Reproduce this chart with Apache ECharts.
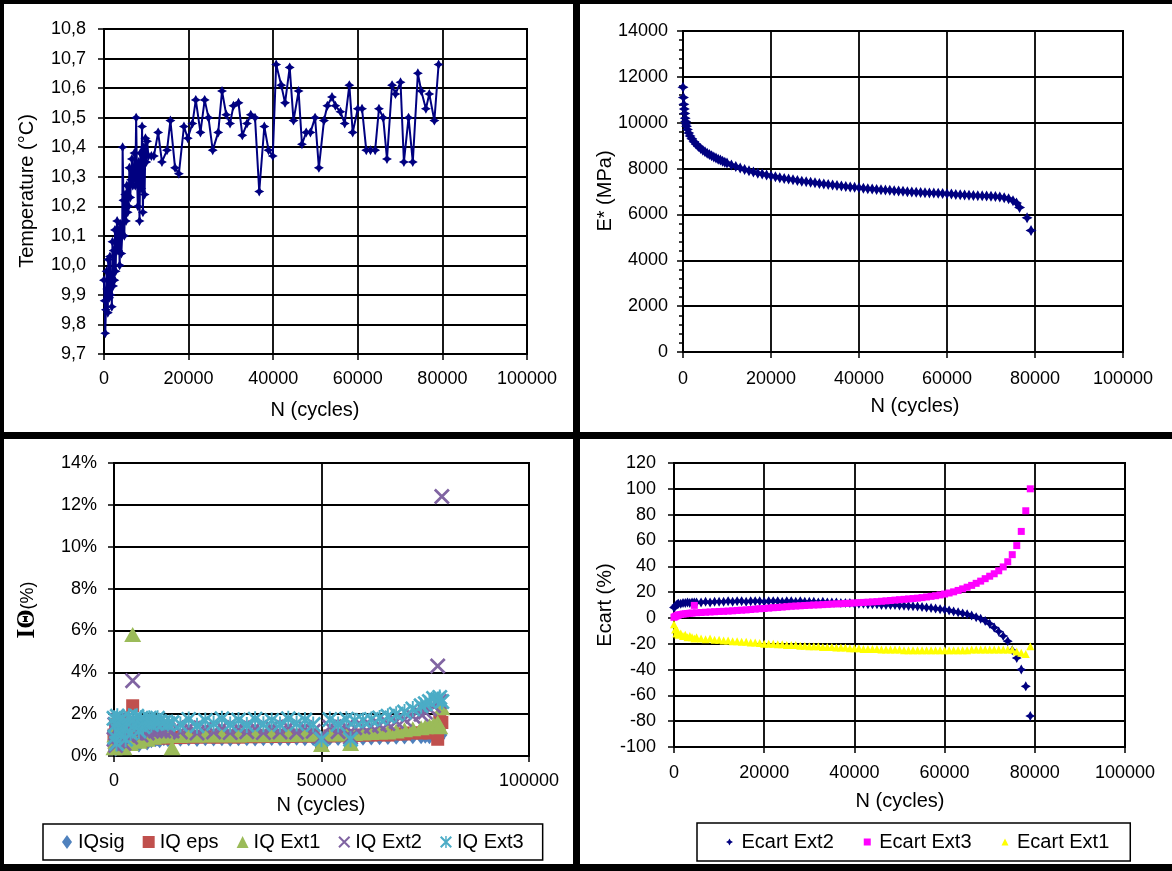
<!DOCTYPE html>
<html>
<head>
<meta charset="utf-8">
<script src="https://cdn.jsdelivr.net/npm/echarts/dist/echarts.min.js"></script>
<style>
html,body{margin:0;padding:0;background:#000;}
#chart{width:1172px;height:871px;}
</style>
</head>
<body>
<div id="chart"></div>
<script>
// ---------- Panel 1 : Temperature vs N ----------
const tempN = [0,150,300,450,600,750,900,1000,1100,1250,1400,1550,1700,1850,2000,2150,2300,2450,2600,2750,2900,3100,3300,3500,3700,3900,4100,4300,4400,4600,4800,5000,5200,5400,5600,5800,6000,6200,6400,6600,6800,7000,7200,7400,7600,7800,8000,8200,8400,8600,8800,9000,9200,9400,9600,9800,10000,10200,10500,
11200,11800,12800,13700,14900,15700,16800,17700,18900,19800,20900,21700,22800,23800,24700,25700,27000,27900,28900,29800,30600,31800,32700,33800,34700,35700,36700,37900,38900,39900,40700,41900,42800,43900,44800,46000,46800,47800,48800,49900,50800,52000,52800,53900,54700,55900,56900,58000,58800,60000,61000,62000,63000,64100,65000,66000,66900,68100,68900,70100,70900,72000,73000,74200,75000,76100,76900,78100,79100];
const tempC = [9.95,9.88,9.77,9.85,9.98,9.92,9.84,10.02,9.95,9.89,10.03,9.9,9.96,9.86,10.08,9.93,10.05,9.95,10.12,9.98,10.08,10.15,10.05,10.12,10.0,10.14,10.04,10.1,10.4,10.22,10.1,10.24,10.15,10.27,10.18,10.2,10.33,10.23,10.29,10.36,10.27,10.3,10.38,10.27,10.5,10.3,10.2,10.35,10.15,10.38,10.26,10.47,10.18,10.4,10.24,10.43,10.35,10.42,10.37,
10.37,10.37,10.45,10.35,10.39,10.49,10.33,10.31,10.47,10.43,10.48,10.56,10.45,10.56,10.50,10.39,10.45,10.59,10.51,10.48,10.54,10.55,10.44,10.48,10.51,10.50,10.25,10.47,10.39,10.37,10.68,10.61,10.55,10.67,10.49,10.59,10.41,10.45,10.45,10.50,10.33,10.49,10.54,10.57,10.54,10.52,10.48,10.61,10.45,10.53,10.53,10.39,10.39,10.39,10.53,10.50,10.36,10.61,10.58,10.62,10.35,10.50,10.35,10.65,10.59,10.53,10.58,10.49,10.68];

// ---------- Panel 2 : E* vs N ----------
const modN = [0,100,200,300,400,500,600,700,800,1000,1300,1600,2000,2500,3000,3500,4000,4500,5000,5500,6000,6500,7000,7500,8000,8500,9000,9500,10000,
11000,12000,13000,14000,15000,16000,17000,18000,19000,20000,21000,22000,23000,24000,25000,26000,27000,28000,29000,30000,31000,32000,33000,34000,35000,36000,37000,38000,39000,40000,41000,42000,43000,44000,45000,46000,47000,48000,49000,50000,51000,52000,53000,54000,55000,56000,57000,58000,59000,60000,61000,62000,63000,64000,65000,66000,67000,68000,69000,70000,71000,72000,73000,74000,75000,75800,76500,78200,79100];
const modE = [11550,11100,10800,10600,10400,10200,10050,9950,9850,9700,9550,9420,9300,9170,9060,8960,8880,8800,8730,8670,8610,8560,8510,8460,8410,8370,8320,8280,8240,
8160,8090,8020,7960,7900,7850,7800,7760,7720,7680,7640,7600,7570,7540,7510,7480,7450,7430,7400,7380,7350,7330,7310,7280,7260,7240,7220,7200,7180,7160,7140,7120,7110,7090,7080,7060,7050,7030,7020,7010,6990,6980,6970,6960,6950,6940,6930,6920,6910,6900,6890,6870,6860,6850,6840,6830,6820,6810,6800,6790,6780,6760,6730,6680,6600,6500,6300,5850,5300];

// ---------- Panel 3 : IQ (%) vs N ----------
const iqN = [0,200,400,600,800,1000,1300,1600,2000,2400,2800,3200,3600,4000,4500,5000,5500,6000,6500,7000,7500,8000,8500,9000,9500,10000,10500,11000,12000,13000,14000,16000,18000,20000,22000,24000,26000,28000,30000,32000,34000,36000,38000,40000,42000,44000,46000,48000,50000,52000,54000,56000,57000,58000,60000,62000,64000,66000,68000,70000,72000,74000,75000,76000,77000,78000,78500,79000];
const iqSig = [0.6,1.2,0.3,0.9,1.4,0.5,1.0,0.4,1.3,0.7,1.1,0.5,0.9,1.2,0.8,0.6,1.0,0.5,0.9,0.7,1.1,0.6,0.8,0.7,0.9,0.75,0.8,0.7,0.8,0.75,0.8,
0.78,0.8,0.77,0.8,0.79,0.8,0.78,0.8,0.8,0.79,0.8,0.81,0.8,0.8,0.82,0.8,0.81,0.8,0.82,0.81,0.82,0.8,
0.82,0.83,0.84,0.85,0.86,0.87,0.88,0.9,0.9,0.92,0.9,0.95,0.95,0.85,1.0];
const iqEps = [1.0,0.5,1.5,0.8,0.4,1.2,0.9,1.6,0.6,1.1,1.4,0.7,1.0,0.8,2.4,1.2,0.9,1.4,0.7,1.0,1.2,0.8,1.1,0.9,1.0,0.85,0.9,0.95,0.9,0.85,0.9,
0.88,0.9,0.9,0.92,0.9,0.91,0.92,0.9,0.93,0.92,0.94,0.93,0.95,0.94,0.95,0.96,0.95,0.65,0.96,0.97,0.97,0.65,
0.98,1.0,1.0,1.02,1.0,1.05,1.05,1.1,1.1,1.15,1.1,1.2,0.8,1.8,1.6];
const iqExt1 = [0.4,1.0,0.7,1.3,0.5,0.9,1.2,0.6,1.0,0.4,1.3,0.8,1.1,0.6,5.8,1.0,1.3,0.7,1.1,0.9,1.2,0.8,1.0,1.1,0.9,1.0,0.95,1.0,0.95,1.0,0.4,
0.98,1.0,1.0,1.0,1.01,1.0,1.02,1.0,1.02,1.03,1.02,1.03,1.04,1.03,1.04,1.05,1.04,0.55,1.05,1.06,1.05,0.6,
1.08,1.1,1.12,1.15,1.15,1.2,1.25,1.3,1.35,1.4,1.45,1.5,1.6,1.4,2.3];
const iqExt2 = [0.8,1.5,0.5,1.2,1.7,0.7,1.4,0.9,1.6,0.6,1.3,1.0,1.5,0.9,3.6,1.4,1.1,1.6,1.0,1.3,1.5,1.1,1.3,1.2,1.4,1.2,1.3,1.25,1.2,1.25,1.2,
1.15,1.35,1.1,1.32,1.15,1.36,1.12,1.34,1.16,1.35,1.12,1.36,1.15,1.38,1.14,1.36,1.18,0.9,1.38,1.16,1.4,0.9,
1.35,1.38,1.42,1.48,1.55,1.65,1.75,1.9,2.0,2.1,2.25,2.4,4.3,2.6,12.4];
const iqExt3 = [1.8,0.9,1.5,0.6,1.9,1.2,1.7,1.0,1.8,1.3,0.8,1.6,1.9,1.1,1.7,1.5,1.9,1.2,1.8,1.4,1.7,1.6,1.8,1.5,1.7,1.6,1.8,1.65,1.6,1.55,1.6,
1.5,1.75,1.45,1.7,1.55,1.78,1.5,1.72,1.48,1.76,1.52,1.7,1.5,1.78,1.55,1.72,1.5,0.8,1.74,1.5,1.76,0.8,
1.68,1.7,1.75,1.82,1.9,2.0,2.1,2.25,2.4,2.5,2.6,2.75,2.7,2.8,2.6];

// ---------- Panel 4 : Ecart (%) vs N ----------
const ecN = [0,250,500,750,1000,1500,2000,2500,3000,3500,4000,4500,5000,6000,7000,8000,9000,10000,
11000,12000,13000,14000,15000,16000,17000,18000,19000,20000,21000,22000,23000,24000,25000,26000,27000,28000,29000,30000,31000,32000,33000,34000,35000,36000,37000,38000,39000,40000,
41000,42000,43000,44000,45000,46000,47000,48000,49000,50000,51000,52000,53000,54000,55000,56000,57000,58000,59000,60000,
61000,62000,63000,64000,65000,66000,67000,68000,69000,70000,71000,72000,73000,74000,75000,76000,77000,78000,79000];
const ecExt2 = [8,9,10,10.5,11,11,11.5,11.5,12,11.5,12,12,12,12,12.5,12,12.5,12.5,
12.5,13,12.5,13,13,12.5,13,13,13,12.5,13,13,13,12.5,13,13,12.5,13,12.5,12.5,12.5,12,12.5,12,12,12,11.5,11.5,11.5,11,
11,11,10.5,10.5,10.5,10,10,10,10,9.7,9.5,9.3,9,8.8,8.5,8,7.7,7.2,6.8,6.4,
5.8,5,4.3,3.5,2.8,1.8,0.6,-0.6,-2.3,-4.5,-7.5,-10.5,-14,-18,-25,-31,-40,-53,-76];
const ecExt3 = [0.5,1,1.5,2,2.3,2.6,3,3.2,3.4,3.6,3.8,9.7,4,4.2,4.4,4.6,4.8,5,
5.1,5.3,5.5,5.8,6,6.2,6.5,6.8,7.1,7.3,7.6,7.9,8.1,8.4,8.7,9,9.2,9.4,9.6,9.8,10,10.1,10.3,10.5,10.7,10.9,11,11.2,11.4,11.6,
11.8,12,12.2,12.4,12.6,12.9,13.2,13.5,13.8,14.1,14.4,14.7,15,15.3,15.7,16.2,16.7,17.2,17.8,18.5,
19.3,20.2,21.3,22.5,23.8,25.2,26.8,28.5,30.4,32.3,34.2,36.5,39.5,43.5,49,56,67,83,100];
const ecExt1 = [-5,-9,-12,-10,-13,-12,-14,-13,-15,-14,-15,-16,-15,-16,-16.5,-16,-17,-17,
-17.5,-17.5,-18,-18,-18.5,-18.5,-19,-19,-19.5,-20,-20,-20,-20.5,-20.5,-21,-21,-21,-21.5,-21.5,-22,-22,-22,-22.5,-22.5,-22.5,-23,-23,-23,-23.5,-23.5,
-23.5,-24,-24,-24,-24,-24.5,-24.5,-24.5,-24.5,-24.5,-25,-25,-25,-25,-25,-25,-25,-25,-25,-25,
-25,-25,-25,-25,-25,-24.5,-24.5,-24.5,-24.5,-24.5,-24.5,-24.5,-24.5,-24.5,-24.5,-26,-27,-28,-22];

// ---------- styling ----------
const FONT = 'Liberation Sans, Arial, sans-serif';
const NAVY = '#000080';
const STAR = 'path://M5,0 L6.8,3.2 L10,5 L6.8,6.8 L5,10 L3.2,6.8 L0,5 L3.2,3.2 Z';
const XMARK = 'path://M0,1.2 L1.2,0 L10,8.8 L8.8,10 Z M8.8,0 L10,1.2 L1.2,10 L0,8.8 Z';
const ASTER = 'path://M0,1.2 L1.2,0 L10,8.8 L8.8,10 Z M8.8,0 L10,1.2 L1.2,10 L0,8.8 Z M4.4,0 L5.6,0 L5.6,10 L4.4,10 Z';
const SQUARE = 'path://M0,0 L10,0 L10,10 L0,10 Z';
const TRI = 'path://M5,0 L10,10 L0,10 Z';
const zip = (xs, ys) => xs.map((x, i) => [x, ys[i]]);

function axis(gridIndex, min, max, interval, labelMargin, extra) {
  return Object.assign({
    type: 'value', gridIndex, min, max, interval,
    axisLine: {show: true, onZero: false, lineStyle: {color: '#000', width: 2}},
    axisTick: {show: true, inside: false, length: 6, lineStyle: {color: '#000', width: 1.5}},
    axisLabel: {color: '#000', fontSize: 18, fontFamily: FONT, margin: labelMargin, formatter: v => String(v)},
    splitLine: {show: true, lineStyle: {color: '#000', width: 1.8}}
  }, extra || {});
}

const chart = echarts.init(document.getElementById('chart'), null, {renderer: 'canvas'});
const titleStyle = {fontSize: 20, fontFamily: FONT, fill: '#000', align: 'center', verticalAlign: 'middle'};

chart.setOption({
  animation: false,
  backgroundColor: '#000',
  graphic: [
    {type: 'rect', z: -10, shape: {x: 4, y: 4, width: 569, height: 428}, style: {fill: '#fff'}},
    {type: 'rect', z: -10, shape: {x: 580, y: 4, width: 592, height: 428}, style: {fill: '#fff'}},
    {type: 'rect', z: -10, shape: {x: 4, y: 439, width: 569, height: 425}, style: {fill: '#fff'}},
    {type: 'rect', z: -10, shape: {x: 580, y: 439, width: 592, height: 425}, style: {fill: '#fff'}},
    {type: 'text', x: 27, y: 191, rotation: Math.PI / 2, style: Object.assign({text: 'Temperature (°C)'}, titleStyle)},
    {type: 'text', x: 315, y: 410, style: Object.assign({text: 'N (cycles)'}, titleStyle)},
    {type: 'text', x: 605, y: 191, rotation: Math.PI / 2, style: Object.assign({text: 'E* (MPa)'}, titleStyle)},
    {type: 'text', x: 915, y: 406, style: Object.assign({text: 'N (cycles)'}, titleStyle)},
    {type: 'text', x: 28, y: 610, rotation: Math.PI / 2, style: {
      text: '{a|IΘ}{b|(%)}', align: 'center', verticalAlign: 'middle',
      rich: {a: {fontSize: 25, fontWeight: 'bold', fontFamily: 'Liberation Serif, DejaVu Serif, serif', fill: '#000'},
             b: {fontSize: 18, fontFamily: FONT, fill: '#000'}}}},
    {type: 'text', x: 321, y: 805, style: Object.assign({text: 'N (cycles)'}, titleStyle)},
    {type: 'text', x: 605, y: 605, rotation: Math.PI / 2, style: Object.assign({text: 'Ecart (%)'}, titleStyle)},
    {type: 'text', x: 900, y: 801, style: Object.assign({text: 'N (cycles)'}, titleStyle)}
  ],
  grid: [
    {left: 104, top: 29, width: 423, height: 325, show: true, borderColor: '#000', borderWidth: 2},
    {left: 683, top: 31, width: 440, height: 321, show: true, borderColor: '#000', borderWidth: 2},
    {left: 114, top: 463, width: 415, height: 293, show: true, borderColor: '#000', borderWidth: 2},
    {left: 674, top: 463, width: 451, height: 284, show: true, borderColor: '#000', borderWidth: 2}
  ],
  xAxis: [
    axis(0, 0, 100000, 20000, 16),
    axis(1, 0, 100000, 20000, 18),
    axis(2, 0, 100000, 50000, 16),
    axis(3, 0, 100000, 20000, 17)
  ],
  yAxis: [
    axis(0, 9.7, 10.8, 0.1, 18, {axisLabel: {color: '#000', fontSize: 18, fontFamily: FONT, margin: 18,
      formatter: v => v.toFixed(1).replace('.', ',')}}),
    axis(1, 0, 14000, 2000, 15, {minorTick: {show: true, splitNumber: 5, length: 4, lineStyle: {color: '#000', width: 1.5}}}),
    axis(2, 0, 14, 2, 17, {axisLabel: {color: '#000', fontSize: 18, fontFamily: FONT, margin: 17, formatter: v => v + '%'}}),
    axis(3, -100, 120, 20, 18)
  ],
  legend: [
    {data: [{name: 'IQsig', icon: 'path://M5,0 L10,7 L5,14 L0,7 Z'}, {name: 'IQ eps', icon: SQUARE},
            {name: 'IQ Ext1', icon: TRI}, {name: 'IQ Ext2', icon: XMARK}, {name: 'IQ Ext3', icon: ASTER}],
     left: 43, top: 824, orient: 'horizontal',
     itemWidth: 12, itemHeight: 14, itemGap: 18, padding: [8, 19], selectedMode: false,
     backgroundColor: '#fff', borderColor: '#000', borderWidth: 1.5,
     textStyle: {fontSize: 20, fontFamily: FONT, color: '#000'}},
    {data: [{name: 'Ecart Ext2', icon: STAR}, {name: 'Ecart Ext3', icon: SQUARE}, {name: 'Ecart Ext1', icon: TRI}],
     left: 697, top: 823, orient: 'horizontal',
     itemWidth: 14, itemHeight: 7, itemGap: 30, padding: [9, 21, 9, 29], selectedMode: false,
     backgroundColor: '#fff', borderColor: '#000', borderWidth: 1.5,
     textStyle: {fontSize: 20, fontFamily: FONT, color: '#000'}}
  ],
  series: [
    {type: 'line', name: 'Temperature', xAxisIndex: 0, yAxisIndex: 0, data: zip(tempN, tempC),
     symbol: STAR, symbolSize: 10, showAllSymbol: true,
     lineStyle: {color: NAVY, width: 2}, itemStyle: {color: NAVY}},
    {type: 'scatter', name: 'E*', xAxisIndex: 1, yAxisIndex: 1, data: zip(modN, modE),
     symbol: STAR, symbolSize: 11, itemStyle: {color: NAVY, opacity: 1}},
    {type: 'scatter', name: 'IQsig', xAxisIndex: 2, yAxisIndex: 2, data: zip(iqN, iqSig),
     symbol: 'diamond', symbolSize: [11, 14], itemStyle: {color: '#4F81BD', opacity: 1}},
    {type: 'scatter', name: 'IQ eps', xAxisIndex: 2, yAxisIndex: 2, data: zip(iqN, iqEps),
     symbol: 'rect', symbolSize: 13, itemStyle: {color: '#C0504D', opacity: 1}},
    {type: 'scatter', name: 'IQ Ext1', xAxisIndex: 2, yAxisIndex: 2, data: zip(iqN, iqExt1),
     symbol: 'triangle', symbolSize: [17, 15], itemStyle: {color: '#9BBB59', opacity: 1}},
    {type: 'scatter', name: 'IQ Ext2', xAxisIndex: 2, yAxisIndex: 2, data: zip(iqN, iqExt2),
     symbol: XMARK, symbolSize: 16, itemStyle: {color: '#8064A2', opacity: 1}},
    {type: 'scatter', name: 'IQ Ext3', xAxisIndex: 2, yAxisIndex: 2, data: zip(iqN, iqExt3),
     symbol: ASTER, symbolSize: 16, itemStyle: {color: '#4BACC6', opacity: 1}},
    {type: 'scatter', name: 'Ecart Ext2', xAxisIndex: 3, yAxisIndex: 3, data: zip(ecN, ecExt2),
     symbol: STAR, symbolSize: 10, itemStyle: {color: NAVY, opacity: 1}},
    {type: 'scatter', name: 'Ecart Ext3', xAxisIndex: 3, yAxisIndex: 3, data: zip(ecN, ecExt3),
     symbol: 'rect', symbolSize: 7, itemStyle: {color: '#FF00FF', opacity: 1}},
    {type: 'scatter', name: 'Ecart Ext1', xAxisIndex: 3, yAxisIndex: 3, data: zip(ecN, ecExt1),
     symbol: 'triangle', symbolSize: 8, itemStyle: {color: '#FFFF00', opacity: 1}}
  ]
});
</script>
</body>
</html>
